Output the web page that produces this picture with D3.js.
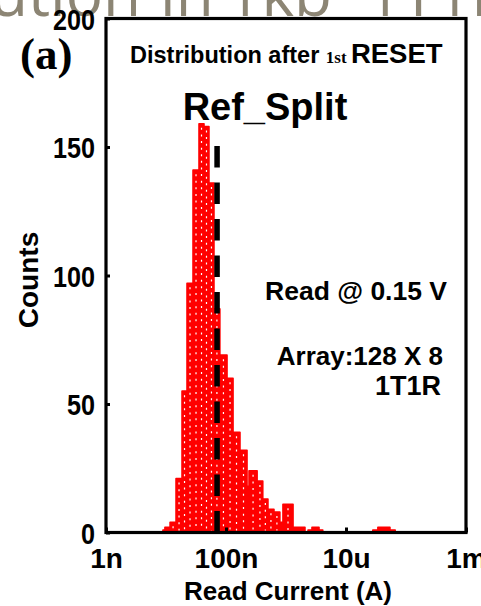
<!DOCTYPE html>
<html>
<head>
<meta charset="utf-8">
<script src="https://cdn.jsdelivr.net/npm/d3@7"></script>
<style>
  body { margin: 0; background: #fff; }
  text { font-family: "Liberation Sans", Arial, sans-serif; font-weight: bold; }
</style>
</head>
<body>
<div id="chart"></div>
<script>
// histogram of read current after 1st RESET

// bin edges (A) and counts per bin
const binEdges = [8.9e-9, 9.6e-9, 1.17e-8, 1.47e-8, 1.85e-8, 2.24e-8, 2.82e-8, 3.55e-8, 4.3e-8,
                  5.2e-8, 6.3e-8, 7.9e-8, 1.04e-7, 1.31e-7, 1.71e-7, 2.24e-7, 2.42e-7, 3.3e-7,
                  4.1e-7, 5.0e-7, 6.3e-7, 7.9e-7, 8.9e-7, 1.31e-6, 2.07e-6, 2.33e-6, 2.71e-6,
                  3.55e-6, 4.1e-6, 2.8e-5, 3.4e-5, 5.4e-5, 6.6e-5];
const counts = [1, 2, 4, 21, 55, 97, 141, 159, 158,
                136, 87, 69, 60, 39, 32, 18, 24,
                20, 13, 9, 8, 4, 11, 2, 0,
                1, 2, 1, 0, 1, 2, 1];

const refSplit = 7.1e-8;      // dashed reference line
const refTop = 155;           // where the dashed line stops

const xTicks = [1e-9, 1e-7, 1e-5, 1e-3];
const xTickLabels = ["1n", "100n", "10u", "1m"];
const yTicks = [0, 50, 100, 150, 200];

const bins = counts.map((c, i) => ({ lo: binEdges[i], hi: binEdges[i + 1], n: c }))
    .filter(d => d.n > 0);

const width = 481, height = 606,
      margin = ({ top: 18.5, right: 15, bottom: 73.5, left: 106 });

let svg = d3.select("#chart")
    .append("svg")
    .attr("width", width)
    .attr("height", height);

let x = d3.scaleLog()
    .domain([1e-9, 1e-3])
    .range([margin.left, width - margin.right]);

let y = d3.scaleLinear()
    .domain([0, 200])
    .range([height - margin.bottom, margin.top]);

// slide title peeking in at the top (cropped)
let title = svg.append("text")
    .attr("y", 16)
    .style("font-family", "'Open Sans', 'Liberation Sans', sans-serif")
    .style("font-weight", "normal")
    .style("font-size", "62px")
    .attr("fill", "#8c8574");
title.append("tspan").attr("x", 141).attr("text-anchor", "end").text("Distribution");
title.append("tspan").attr("x", 160).attr("text-anchor", "start").text("in");
title.append("tspan").attr("x", 226).text("1kb");
title.append("tspan").attr("x", 366).text("1T1R");

// bars
let bar = svg.selectAll(".bar")
    .data(bins)
    .join("g")
    .attr("class", "bar");

bar.append("rect")
    .attr("x", d => x(d.lo))
    .attr("width", d => x(d.hi) - x(d.lo))
    .attr("y", d => y(d.n))
    .attr("height", d => y(0) - y(d.n))
    .attr("fill", "#ff0000")
    .attr("stroke", "#ff0000")
    .attr("stroke-width", 1.6)
    .attr("stroke-linejoin", "round");

// white dotted hatch in each bar
bar.filter(d => y(0) - y(d.n) > 10 && x(d.hi) - x(d.lo) > 4)
    .append("line")
    .attr("x1", d => (x(d.lo) + x(d.hi)) / 2)
    .attr("x2", d => (x(d.lo) + x(d.hi)) / 2)
    .attr("y1", d => y(d.n) + 4)
    .attr("y2", y(0) - 2)
    .attr("stroke", "#fff")
    .attr("stroke-width", 1.2)
    .attr("stroke-dasharray", "2,4.6");

// dashed reference line
svg.append("line")
    .attr("x1", x(refSplit)).attr("x2", x(refSplit))
    .attr("y1", y(0)).attr("y2", y(refTop))
    .attr("stroke", "#000")
    .attr("stroke-width", 5.5)
    .attr("stroke-dasharray", "21.5,15");

// axes
let xAxis = svg.append("g")
    .attr("transform", `translate(0, ${y(0)})`)
    .call(d3.axisBottom(x).tickValues(xTicks).tickFormat((d, i) => xTickLabels[i])
        .tickSizeInner(-5).tickSizeOuter(0).tickPadding(16));
xAxis.selectAll("text").style("font-size", "28px").attr("fill", "#000");
xAxis.selectAll("line").attr("stroke", "#000").attr("stroke-width", 3);
xAxis.select(".domain").remove();

let yAxis = svg.append("g")
    .attr("transform", `translate(${margin.left}, 0)`)
    .call(d3.axisLeft(y).tickValues(yTicks).tickSizeInner(-4).tickSizeOuter(0).tickPadding(11));
yAxis.selectAll("text")
    .style("font-size", "30px")
    .attr("fill", "#000")
    .attr("x", -11 / 0.84)
    .attr("dy", "0.36em")
    .attr("transform", "scale(0.84,1)");
yAxis.selectAll("line").attr("stroke", "#000").attr("stroke-width", 3);
yAxis.select(".domain").remove();

// frame
svg.append("rect")
    .attr("x", x(1e-9)).attr("y", y(200))
    .attr("width", x(1e-3) - x(1e-9))
    .attr("height", y(0) - y(200))
    .attr("fill", "none")
    .attr("stroke", "#000")
    .attr("stroke-width", 3.2);

// axis titles
svg.append("text")
    .attr("x", 288).attr("y", 600)
    .attr("text-anchor", "middle")
    .style("font-size", "26px")
    .text("Read Current (A)");

svg.append("text")
    .attr("transform", "translate(38, 280) rotate(-90)")
    .attr("text-anchor", "middle")
    .style("font-size", "28px")
    .text("Counts");

svg.append("text")
    .attr("x", 20).attr("y", 69)
    .style("font-family", "'Liberation Serif', 'Times New Roman', serif")
    .style("font-size", "45px")
    .text("(a)");

// annotations
let head = svg.append("text")
    .attr("x", 130).attr("y", 63)
    .style("font-size", "23.5px");
head.append("tspan").text("Distribution after ");
head.append("tspan")
    .style("font-family", "'Liberation Serif', 'Times New Roman', serif")
    .style("font-size", "17px")
    .text("1st ");
head.append("tspan").style("font-size", "27.5px").text("RESET");

svg.append("text")
    .attr("x", 265).attr("y", 120)
    .attr("text-anchor", "middle")
    .style("font-size", "38px")
    .text("Ref_Split");

svg.append("text")
    .attr("x", 447).attr("y", 300)
    .attr("text-anchor", "end")
    .style("font-size", "26.5px")
    .text("Read @ 0.15 V");

svg.append("text")
    .attr("x", 443).attr("y", 365)
    .attr("text-anchor", "end")
    .style("font-size", "26px")
    .text("Array:128 X 8");

svg.append("text")
    .attr("x", 441).attr("y", 395)
    .attr("text-anchor", "end")
    .style("font-size", "27px")
    .text("1T1R");
</script>
</body>
</html>
